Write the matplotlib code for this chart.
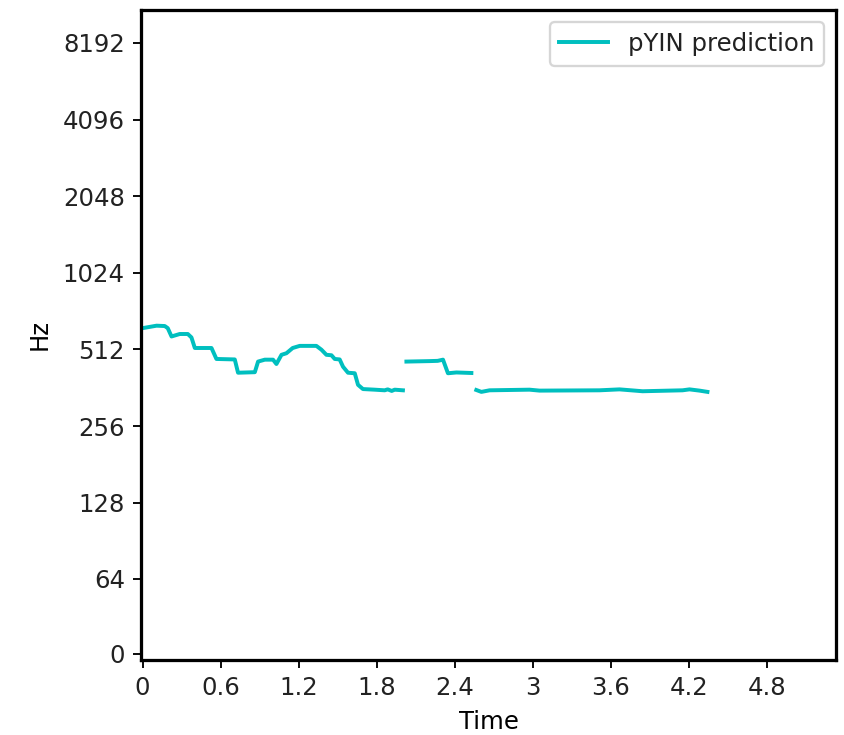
import numpy as np
import matplotlib
matplotlib.use("Agg")
import matplotlib.pyplot as plt

# pYIN f0 track (seconds, Hz); nan splits the voiced segments
times = [0.0, 0.108, 0.171, 0.194, 0.223, 0.286, 0.348, 0.376, 0.402, 0.530,
         0.568, 0.709, 0.734, 0.863, 0.888, 0.940, 1.003, 1.029, 1.068, 1.106,
         1.154, 1.208, 1.336, 1.375, 1.413, 1.452, 1.477, 1.515, 1.541, 1.579,
         1.631, 1.656, 1.694, 1.784, 1.861, 1.884, 1.915, 1.938, 2.001, 2.014,
         2.028, 2.207, 2.268, 2.309, 2.347, 2.412, 2.527, 2.546,
         2.565, 2.604, 2.667, 2.974, 3.051, 3.512, 3.665, 3.843, 4.150, 4.203,
         4.280, 4.341]
f0 = [621, 635, 633, 621, 576, 589, 589, 571, 519, 519,
      470, 468, 415, 417, 459, 467, 467, 449, 488, 495,
      519, 529, 529, 511, 488, 486, 470, 468, 438, 415,
      413, 372, 358, 356, 354, 357, 352, 356, 354, np.nan,
      459, 461, 462, 467, 413, 416, 414, np.nan,
      355, 349, 354, 356, 353, 354, 357, 351, 354, 357,
      353, 349]

sr = 22050
hop = 512
n_fft = 2048
n_frames = 230

yticks = [0] + [64 * 2 ** k for k in range(8)]
xticks = np.arange(0, 5.0, 0.6)

plt.rcParams["font.size"] = 10.5
plt.rcParams["text.color"] = "#222222"
plt.rcParams["xtick.labelcolor"] = "#222222"
plt.rcParams["ytick.labelcolor"] = "#222222"

dpi = 167
fig = plt.figure(figsize=(844 / dpi, 735 / dpi), dpi=dpi)
ax = fig.add_axes([141 / 844, 1 - 660 / 735, (836 - 141) / 844, (660 - 10) / 735])

ax.plot(times, f0, color="c", linewidth=1.7, label="pYIN prediction")

# librosa-style log frequency axis
ax.set_yscale("symlog", base=2, linthresh=65.406, linscale=0.5)
half_bin = sr / n_fft / 2
ax.set_ylim(-half_bin, sr / 2 + half_bin)
ax.set_yticks(yticks)
ax.set_yticklabels([str(v) for v in yticks])
ax.yaxis.set_minor_locator(matplotlib.ticker.NullLocator())

frame_t = hop / sr
ax.set_xlim(-frame_t / 2, (n_frames - 0.5) * frame_t)
ax.set_xticks(xticks)
ax.set_xticklabels(["%g" % round(v, 1) for v in xticks])

for s in ax.spines.values():
    s.set_linewidth(1.4)

ax.set_xlabel("Time")
ax.set_ylabel("Hz", labelpad=5)
ax.legend(loc="upper right")

fig.savefig("out.png", dpi=dpi)
